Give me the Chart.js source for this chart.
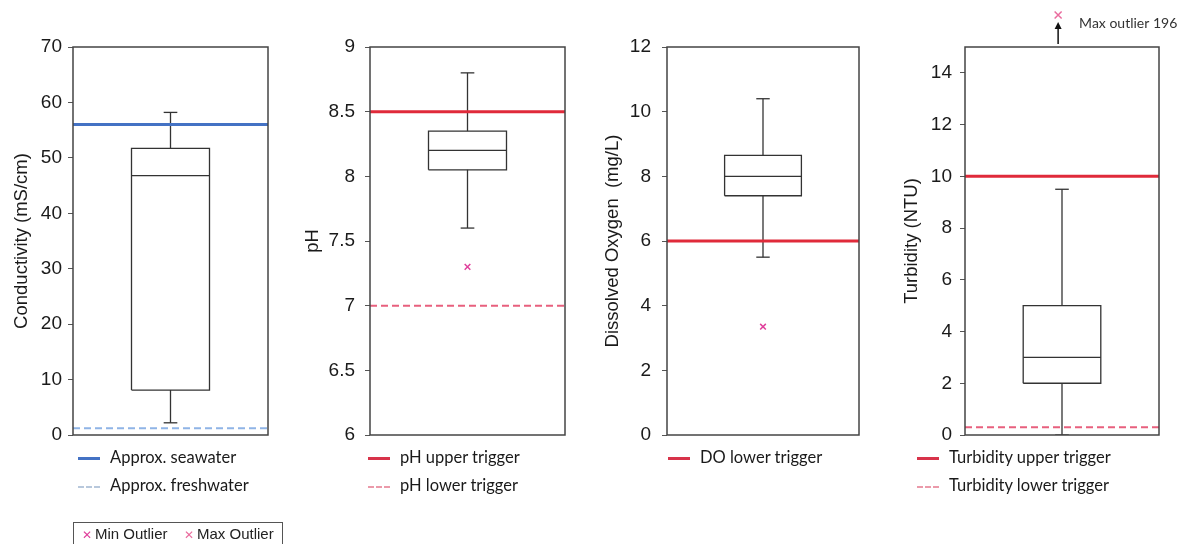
<!DOCTYPE html>
<html>
<head>
<meta charset="utf-8">
<script src="https://cdn.jsdelivr.net/npm/chart.js@4.4.1/dist/chart.umd.min.js"></script>
<style>
  body { margin:0; background:#fff; width:1185px; height:544px; overflow:hidden; position:relative; }
  canvas { position:absolute; top:0; }
  .key { position:absolute; font:16.5px Lato, sans-serif; color:#1a1a1a; white-space:nowrap; line-height:20px; height:20px; }
  .key i { display:inline-block; width:22px; height:0; vertical-align:middle; margin-right:10px; }
  .outkey { position:absolute; left:73px; top:522px; width:208px; height:30px; border:1px solid #555;
            font:15px "Liberation Sans", Arial, sans-serif; color:#222; line-height:22px; }
  .outkey span { position:absolute; top:0; }
  .outkey b { color:#e0409c; font-weight:normal; font-size:12px; margin-right:3px; }
</style>
</head>
<body>
<div id="wrap"></div>
<div class="outkey"><span style="left:8px"><b>✕</b>Min Outlier</span><span style="left:110px"><b style="color:#ea6c9e">✕</b>Max Outlier</span></div>
<script>
// four water-quality parameters: conductivity, pH, dissolved oxygen, turbidity
const axisTitles = ['Conductivity (mS/cm)', 'pH', 'Dissolved Oxygen  (mg/L)', 'Turbidity (NTU)'];
const yMin = [0, 6, 0, 0];
const yMax = [70, 9, 12, 15];
const tickValues = [
  [0, 10, 20, 30, 40, 50, 60, 70],
  [6, 6.5, 7, 7.5, 8, 8.5, 9],
  [0, 2, 4, 6, 8, 10, 12],
  [0, 2, 4, 6, 8, 10, 12, 14]
];

// box plot summaries
const whiskerLow  = [2.2, 7.6, 5.5, 0];
const quartile1   = [8.1, 8.05, 7.4, 2.0];
const medians     = [46.8, 8.2, 8.0, 3.0];
const quartile3   = [51.7, 8.35, 8.65, 5.0];
const whiskerHigh = [58.2, 8.8, 10.4, 9.5];
const minOutliers = [null, 7.3, 3.35, null];
const maxOutliers = [null, null, null, 196];

// reference / trigger levels
const refLabels = [
  ['Approx. seawater', 'Approx. freshwater'],
  ['pH upper trigger', 'pH lower trigger'],
  ['DO lower trigger'],
  ['Turbidity upper trigger', 'Turbidity lower trigger']
];
const refValues = [[56, 1.2], [8.5, 7], [6], [10, 0.3]];
const refKinds = [['sea', 'fresh'], ['trigger', 'triggerDash'], ['trigger'], ['trigger', 'triggerDash']];

const refStyle = {
  sea:         { color: '#4472c4', width: 3, dash: [],     key: '#4472c4' },
  fresh:       { color: '#8fb4e6', width: 2, dash: [7, 4], key: '#b8c8dc' },
  trigger:     { color: '#e02a3a', width: 3, dash: [],     key: '#d8334a' },
  triggerDash: { color: '#e8607e', width: 2, dash: [7, 4], key: '#eb9aaa' }
};

// where each panel sits on the page
const layout = [
  { left: 0,   width: 292, plotLeft: 73,  plotRight: 268,  titlePad: 11, tickPad: 6,  keyLeft: 78 },
  { left: 290, width: 290, plotLeft: 370, plotRight: 565,  titlePad: 12, tickPad: 10, keyLeft: 368 },
  { left: 585, width: 292, plotLeft: 667, plotRight: 859,  titlePad: 17, tickPad: 11, keyLeft: 668 },
  { left: 882, width: 303, plotLeft: 965, plotRight: 1159, titlePad: 19, tickPad: 8,  keyLeft: 917 }
];
// canvas runs past the plot bottom so the axis label padding never squeezes it
const plotTop = 47, plotBottom = 435, canvasH = 480;
const ink = '#333';

function seg(points, color, width, dash, order) {
  return { data: points, showLine: true, borderColor: color, borderWidth: width, borderDash: dash || [],
           pointRadius: 0, fill: false, order: order };
}

function datasetsFor(i) {
  const lo = 0.3, hi = 0.7, c = 0.5, cap = 0.035;
  const sets = [];
  refValues[i].forEach((v, k) => {
    const s = refStyle[refKinds[i][k]];
    sets.push(seg([{ x: 0, y: v }, { x: 1, y: v }], s.color, s.width, s.dash, 0));
  });
  const q1 = quartile1[i], q3 = quartile3[i], md = medians[i];
  sets.push(seg([{ x: lo, y: q1 }, { x: hi, y: q1 }, { x: hi, y: q3 }, { x: lo, y: q3 }, { x: lo, y: q1 }], ink, 1.3, [], 1));
  sets.push(seg([{ x: lo, y: md }, { x: hi, y: md }], ink, 1.3, [], 1));
  sets.push(seg([{ x: c, y: q3 }, { x: c, y: whiskerHigh[i] }], ink, 1.3, [], 1));
  sets.push(seg([{ x: c - cap, y: whiskerHigh[i] }, { x: c + cap, y: whiskerHigh[i] }], ink, 1.3, [], 1));
  sets.push(seg([{ x: c, y: q1 }, { x: c, y: whiskerLow[i] }], ink, 1.3, [], 1));
  sets.push(seg([{ x: c - cap, y: whiskerLow[i] }, { x: c + cap, y: whiskerLow[i] }], ink, 1.3, [], 1));
  if (minOutliers[i] !== null) {
    sets.push({ data: [{ x: c, y: minOutliers[i] }], pointStyle: 'crossRot', pointRadius: 4,
                borderColor: '#e0409c', borderWidth: 1.5, order: 0 });
  }
  if (maxOutliers[i] !== null && maxOutliers[i] <= yMax[i]) {
    sets.push({ data: [{ x: c, y: maxOutliers[i] }], pointStyle: 'crossRot', pointRadius: 4,
                borderColor: '#ea6c9e', borderWidth: 1.5, order: 0 });
  }
  return sets;
}

// frame round the plot, plus an arrow for a max outlier that is off the scale
const framePlugin = {
  id: 'frame',
  afterDatasetsDraw(chart) {
    const i = chart.options.panelIndex;
    const a = chart.chartArea, ctx = chart.ctx;
    ctx.save();
    ctx.strokeStyle = '#444';
    ctx.lineWidth = 1.5;
    ctx.strokeRect(a.left, a.top, a.right - a.left, a.bottom - a.top);
    const mx = maxOutliers[i];
    if (mx !== null && mx > yMax[i]) {
      const x = chart.scales.x.getPixelForValue(0.48);
      ctx.strokeStyle = '#111';
      ctx.fillStyle = '#111';
      ctx.lineWidth = 1.5;
      ctx.beginPath();
      ctx.moveTo(x, a.top - 3);
      ctx.lineTo(x, a.top - 20);
      ctx.stroke();
      ctx.beginPath();
      ctx.moveTo(x - 3.5, a.top - 18);
      ctx.lineTo(x + 3.5, a.top - 18);
      ctx.lineTo(x, a.top - 25);
      ctx.closePath();
      ctx.fill();
      // marker
      const my = a.top - 32, r = 3.5;
      ctx.strokeStyle = '#ea6c9e';
      ctx.beginPath();
      ctx.moveTo(x - r, my - r); ctx.lineTo(x + r, my + r);
      ctx.moveTo(x + r, my - r); ctx.lineTo(x - r, my + r);
      ctx.stroke();
      ctx.fillStyle = '#333';
      ctx.font = '14px Lato, sans-serif';
      ctx.textBaseline = 'middle';
      ctx.fillText('Max outlier ' + mx, x + 21, a.top - 24);
    }
    ctx.restore();
  }
};

const wrap = document.getElementById('wrap');

layout.forEach((L, i) => {
  const cv = document.createElement('canvas');
  cv.width = L.width;
  cv.height = canvasH;
  cv.style.left = L.left + 'px';
  wrap.appendChild(cv);

  const axisW = L.plotLeft - L.left;
  new Chart(cv, {
    type: 'scatter',
    data: { datasets: datasetsFor(i) },
    plugins: [framePlugin],
    options: {
      panelIndex: i,
      responsive: false,
      animation: false,
      events: [],
      layout: { padding: { left: 0, top: plotTop, bottom: canvasH - plotBottom, right: L.left + L.width - L.plotRight } },
      plugins: { legend: { display: false }, tooltip: { enabled: false } },
      scales: {
        x: { type: 'linear', min: 0, max: 1, display: false },
        y: {
          type: 'linear', min: yMin[i], max: yMax[i],
          afterFit: s => { s.width = axisW; },
          afterBuildTicks: s => { s.ticks = tickValues[i].map(v => ({ value: v })); },
          border: { display: false },
          grid: { drawOnChartArea: false, drawTicks: true, tickLength: 5, color: '#555', lineWidth: 1 },
          ticks: { padding: L.tickPad, color: '#1a1a1a', font: { family: 'Liberation Sans', size: 19 },
                   callback: v => String(v) },
          title: { display: true, text: axisTitles[i], color: '#1a1a1a', padding: { top: L.titlePad, bottom: 0 },
                   font: { family: 'Liberation Sans', size: 18.5 } }
        }
      }
    }
  });

  // legend rows under each panel
  refLabels[i].forEach((label, k) => {
    const s = refStyle[refKinds[i][k]];
    const d = document.createElement('div');
    d.className = 'key';
    d.style.left = L.keyLeft + 'px';
    d.style.top = (447 + k * 28) + 'px';
    const sample = document.createElement('i');
    sample.style.borderTop = (s.dash.length ? '2px dashed ' : '3px solid ') + s.key;
    d.appendChild(sample);
    d.appendChild(document.createTextNode(label));
    wrap.appendChild(d);
  });
});
</script>
</body>
</html>
